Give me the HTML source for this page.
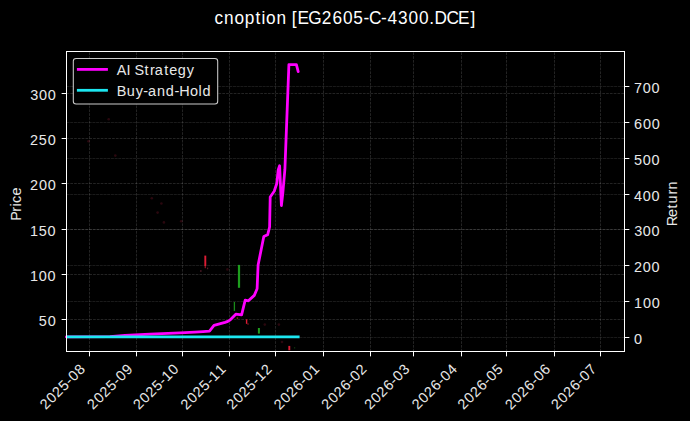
<!DOCTYPE html>
<html><head><meta charset="utf-8"><style>html,body{margin:0;padding:0;background:#000;width:690px;height:421px;overflow:hidden}</style></head><body>
<svg width="690" height="421" viewBox="0 0 690 421" style="display:block">
<rect width="690" height="421" fill="#000"/>
<path d="M89.50 351.5V51.5 M136.50 351.5V51.5 M182.50 351.5V51.5 M229.50 351.5V51.5 M275.50 351.5V51.5 M323.50 351.5V51.5 M370.50 351.5V51.5 M413.50 351.5V51.5 M461.50 351.5V51.5 M506.50 351.5V51.5 M554.50 351.5V51.5 M600.50 351.5V51.5 M66.5 319.50H624.5 M66.5 274.50H624.5 M66.5 229.50H624.5 M66.5 183.50H624.5 M66.5 138.50H624.5 M66.5 93.50H624.5" stroke="#fff" stroke-opacity="0.2" stroke-width="0.7" stroke-dasharray="2.7 1.1" fill="none"/>
<path d="M66.5 337.50H624.5 M66.5 301.50H624.5 M66.5 265.50H624.5 M66.5 229.50H624.5 M66.5 194.50H624.5 M66.5 158.50H624.5 M66.5 122.50H624.5 M66.5 86.50H624.5" stroke="#fff" stroke-opacity="0.15" stroke-width="0.7" stroke-dasharray="3 0.7" fill="none"/>
<circle cx="108.7" cy="119.3" r="1.3" fill="#c02040" fill-opacity="0.22"/>
<circle cx="88.5" cy="141.3" r="1.3" fill="#c02040" fill-opacity="0.22"/>
<circle cx="115.3" cy="155.6" r="1.3" fill="#c02040" fill-opacity="0.22"/>
<circle cx="151.8" cy="198.2" r="1.3" fill="#c02040" fill-opacity="0.22"/>
<circle cx="161.4" cy="203.5" r="1.3" fill="#c02040" fill-opacity="0.22"/>
<circle cx="157.6" cy="212.6" r="1.3" fill="#c02040" fill-opacity="0.22"/>
<circle cx="163.9" cy="222.4" r="1.3" fill="#c02040" fill-opacity="0.22"/>
<circle cx="181.2" cy="221.2" r="1.3" fill="#c02040" fill-opacity="0.22"/>
<circle cx="227.4" cy="269.4" r="1.3" fill="#c02040" fill-opacity="0.22"/>
<circle cx="264.8" cy="324.6" r="1.3" fill="#c02040" fill-opacity="0.22"/>
<circle cx="278.9" cy="324.6" r="1.3" fill="#c02040" fill-opacity="0.22"/>
<circle cx="282" cy="342" r="1.3" fill="#c02040" fill-opacity="0.22"/>
<rect x="204.35" y="255.6" width="1.9" height="10.40" fill="#dc1c34"/>
<rect x="245.90" y="319.3" width="1.4" height="4.50" fill="#dc1c34"/>
<rect x="288.35" y="345.9" width="1.9" height="4.40" fill="#dc1c34"/>
<rect x="237.90" y="264.9" width="2.2" height="22.90" fill="#1e9e1e"/>
<rect x="233.75" y="302.0" width="1.3" height="8.90" fill="#1a8a1a"/>
<rect x="257.90" y="328.0" width="2.0" height="5.60" fill="#1e9e1e"/>
<rect x="204.6" y="266" width="1.4" height="2.2" fill="#dc1c34" fill-opacity="0.6"/>
<rect x="200.2" y="270.2" width="1.3" height="1.6" fill="#c04060" fill-opacity="0.45"/>
<rect x="207" y="267.6" width="1.2" height="1.6" fill="#c04060" fill-opacity="0.45"/>
<rect x="247.4" y="323.2" width="1.2" height="1.6" fill="#dc1c34" fill-opacity="0.6"/>
<rect x="236.7" y="317.3" width="1.4" height="1.6" fill="#d05020" fill-opacity="0.6"/>
<rect x="294" y="347" width="1.2" height="1.6" fill="#208020" fill-opacity="0.35"/>
<polyline points="66.5,336.9 110,336.6 125,335.5 150,334.1 180,332.8 195,332.1 203,331.6 209.5,331.1 214,325.4 225,322.4 227.8,321.4 230.3,319.8 235.8,314.2 241.6,314.9 245.2,300.2 248.4,300.8 254.3,295.4 257.1,288.8 258.1,265 263.8,236.6 267.6,234.8 269.6,227 270.2,197 274.2,191.3 276.8,183.5 278.2,170 279.6,165.7 281.4,205.5 282.8,193.4 284.9,169.2 288.9,64.6 296.4,64.6 298.2,71.6" fill="none" stroke="#f0f" stroke-width="2.78" stroke-linejoin="round" stroke-linecap="round"/>
<path d="M66.5 336.8H299.6" stroke="#1ce6f0" stroke-width="2.78" stroke-linecap="butt"/>
<rect x="66.5" y="51.5" width="558.0" height="300.0" fill="none" stroke="#fff" stroke-width="1"/>
<path d="M89.50 351.5v4.86 M136.50 351.5v4.86 M182.50 351.5v4.86 M229.50 351.5v4.86 M275.50 351.5v4.86 M323.50 351.5v4.86 M370.50 351.5v4.86 M413.50 351.5v4.86 M461.50 351.5v4.86 M506.50 351.5v4.86 M554.50 351.5v4.86 M600.50 351.5v4.86 M66.5 319.50h-4.86 M66.5 274.50h-4.86 M66.5 229.50h-4.86 M66.5 183.50h-4.86 M66.5 138.50h-4.86 M66.5 93.50h-4.86 M624.5 337.50h4.86 M624.5 301.50h4.86 M624.5 265.50h4.86 M624.5 229.50h4.86 M624.5 194.50h4.86 M624.5 158.50h4.86 M624.5 122.50h4.86 M624.5 86.50h4.86" stroke="#fff" stroke-width="1"/>
<g fill="#e8e8e8" style="font-family:'Liberation Sans',sans-serif">
<text x="-0.40 8.61 13.76 17.21 24.86" y="0.00" transform="translate(20.85,220.24) rotate(-90)" style="font-size:14.44px">Price</text>
<text x="-0.17 9.02 17.69 22.64 31.53 36.51" y="0.00" transform="translate(677.15,226.10) rotate(-90)" style="font-size:14.44px">Return</text>
<text x="38.82 47.63" y="326.00" style="font-size:14.44px">50</text>
<text x="29.93 38.79 47.58" y="280.80" style="font-size:14.44px">100</text>
<text x="29.93 38.74 47.58" y="235.60" style="font-size:14.44px">150</text>
<text x="29.94 38.88 47.63" y="190.40" style="font-size:14.44px">200</text>
<text x="29.94 38.82 47.63" y="145.20" style="font-size:14.44px">250</text>
<text x="30.14 38.88 47.63" y="100.00" style="font-size:14.44px">300</text>
<text x="634.12" y="344.00" style="font-size:14.44px">0</text>
<text x="634.05 642.91 651.70" y="308.14" style="font-size:14.44px">100</text>
<text x="633.94 642.87 651.62" y="272.29" style="font-size:14.44px">200</text>
<text x="634.14 642.87 651.62" y="236.43" style="font-size:14.44px">300</text>
<text x="634.12 642.87 651.62" y="200.57" style="font-size:14.44px">400</text>
<text x="634.07 642.87 651.62" y="164.71" style="font-size:14.44px">500</text>
<text x="634.12 642.91 651.70" y="128.86" style="font-size:14.44px">600</text>
<text x="634.09 642.87 651.62" y="93.00" style="font-size:14.44px">700</text>
<text x="0.22 9.15 17.73 26.61 35.12 40.39 49.14" y="0.00" transform="translate(45.52,410.46) rotate(-45)" style="font-size:14.44px">2025-08</text>
<text x="0.22 9.15 17.73 26.61 35.12 40.39 49.10" y="0.00" transform="translate(92.97,410.46) rotate(-45)" style="font-size:14.44px">2025-09</text>
<text x="0.22 9.15 17.73 26.61 35.12 40.31 49.14" y="0.00" transform="translate(138.89,410.46) rotate(-45)" style="font-size:14.44px">2025-10</text>
<text x="0.22 9.17 17.76 26.67 35.20 40.40 49.18" y="0.00" transform="translate(186.26,410.55) rotate(-45)" style="font-size:14.44px">2025-11</text>
<text x="0.22 9.15 17.73 26.61 35.12 40.31 48.96" y="0.00" transform="translate(232.27,410.46) rotate(-45)" style="font-size:14.44px">2025-12</text>
<text x="0.22 9.17 17.76 26.72 35.20 40.47 49.18" y="0.00" transform="translate(279.63,410.55) rotate(-45)" style="font-size:14.44px">2026-01</text>
<text x="0.22 9.15 17.73 26.67 35.12 40.39 48.96" y="0.00" transform="translate(327.17,410.46) rotate(-45)" style="font-size:14.44px">2026-02</text>
<text x="0.22 9.15 17.73 26.67 35.12 40.39 49.16" y="0.00" transform="translate(370.03,410.46) rotate(-45)" style="font-size:14.44px">2026-03</text>
<text x="0.22 9.15 17.73 26.67 35.12 40.39 49.14" y="0.00" transform="translate(417.48,410.46) rotate(-45)" style="font-size:14.44px">2026-04</text>
<text x="0.22 9.15 17.73 26.67 35.12 40.39 49.09" y="0.00" transform="translate(463.40,410.46) rotate(-45)" style="font-size:14.44px">2026-05</text>
<text x="0.22 9.17 17.76 26.72 35.20 40.47 49.25" y="0.00" transform="translate(510.76,410.55) rotate(-45)" style="font-size:14.44px">2026-06</text>
<text x="0.22 9.15 17.73 26.67 35.12 40.39 49.12" y="0.00" transform="translate(556.77,410.46) rotate(-45)" style="font-size:14.44px">2026-07</text>
</g>
<g fill="#fff" style="font-family:'Liberation Sans',sans-serif"><text x="225.86 235.91 246.72 257.68 268.97 275.36 280.09 290.97 301.46 307.22 313.22 324.51 338.57 349.89 360.96 371.97 382.73 388.34 401.18 407.84 418.94 430.00 441.08 451.89 457.39 470.04 482.16 495.31" y="24.20" transform="scale(0.95,1)" style="font-size:18.17px">cnoption [EG2605-C-4300.DCE]</text></g>
<rect x="73.3" y="58.5" width="144.4" height="45.5" rx="2.8" fill="#000" fill-opacity="0.97" stroke="#fff" stroke-opacity="0.8" stroke-width="1.05"/>
<path d="M76.9 69.4H107.9" stroke="#f0f" stroke-width="2.78"/>
<path d="M76.9 90.3H107.9" stroke="#1ce6f0" stroke-width="2.78"/>
<g fill="#e8e8e8" style="font-family:'Liberation Sans',sans-serif">
<text x="116.82 126.44 130.50 134.59 144.43 149.93 154.64 164.13 169.18 177.76 186.78" y="75.00" style="font-size:14.44px">AI Strategy</text>
<text x="116.81 126.76 135.70 143.27 147.90 157.10 165.79 174.39 179.30 189.97 198.55 202.39" y="95.94" style="font-size:14.44px">Buy-and-Hold</text>
</g>
</svg>
</body></html>
